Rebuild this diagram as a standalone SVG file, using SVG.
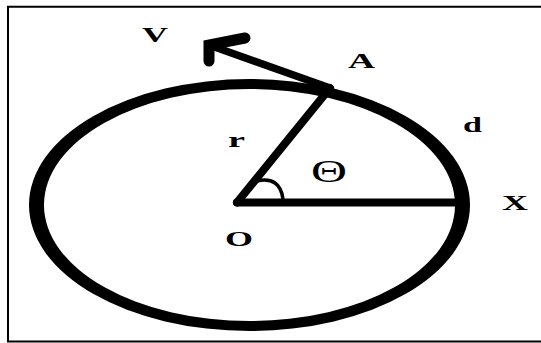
<svg xmlns="http://www.w3.org/2000/svg" width="541" height="343" viewBox="0 0 541 343">
<style>
.lbl{font-family:"Liberation Serif","Times New Roman",serif;font-weight:bold;font-size:21px;fill:#000}
.greek{font-family:"Liberation Serif","Times New Roman",serif;font-weight:normal;font-size:31px;fill:#000}
.ln{stroke:#000;fill:none}
</style>
<rect width="541" height="343" fill="#fff"/>
<g id="frame">
<path d="M541,6.8 H8 V341.5 H541" fill="none" stroke="#000" stroke-width="2"/>
</g>
<g id="circle">
<path fill="#000" fill-rule="evenodd" d="M29,205 A220.5,126 0 1 0 470,205 A220.5,126 0 1 0 29,205 Z M44,205 A205.5,116 0 1 0 455,205 A205.5,116 0 1 0 44,205 Z"/>
</g>
<g id="connectors">
<line id="radius-OA" class="ln" x1="237" y1="202.5" x2="330" y2="88" stroke-width="8" stroke-linecap="round"/>
<line id="radius-OX" class="ln" x1="237" y1="202.5" x2="462" y2="202.5" stroke-width="8" stroke-linecap="round"/>
<line id="velocity" class="ln" x1="330" y1="88" x2="209" y2="45" stroke-width="7.5" stroke-linecap="round"/>
<polyline id="velocity-head" class="ln" points="245,38 209,45 209,61" stroke-width="11" stroke-linecap="round" stroke-linejoin="miter"/>
<path id="angle-arc" class="ln" d="M257,181 Q280,176 283,199" stroke-width="3.5"/>
</g>
<g id="label-V"><text class="lbl" x="142" y="42" textLength="26" lengthAdjust="spacingAndGlyphs">V</text></g>
<g id="label-A"><text class="lbl" x="348" y="68" textLength="27" lengthAdjust="spacingAndGlyphs">A</text></g>
<g id="label-d"><text class="lbl" x="463" y="132" textLength="19" lengthAdjust="spacingAndGlyphs">d</text></g>
<g id="label-r"><text class="lbl" x="228" y="147" textLength="17" lengthAdjust="spacingAndGlyphs">r</text></g>
<g id="label-theta"><text class="greek" x="311" y="182" textLength="36" lengthAdjust="spacingAndGlyphs">Θ</text></g>
<g id="label-X"><text class="lbl" x="502" y="210" textLength="26" lengthAdjust="spacingAndGlyphs">X</text></g>
<g id="label-O"><text class="lbl" x="225" y="246" textLength="28" lengthAdjust="spacingAndGlyphs">O</text></g>
</svg>
